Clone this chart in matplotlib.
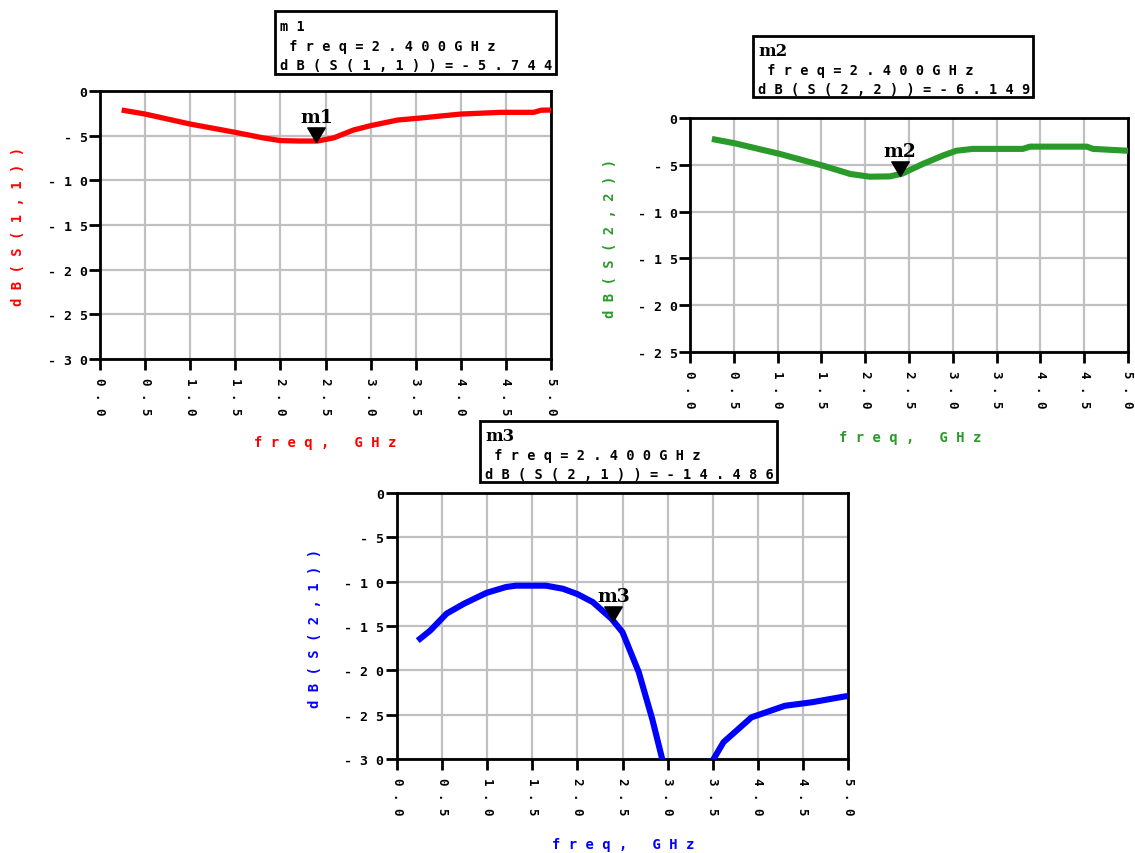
import matplotlib
matplotlib.use("Agg")
import matplotlib.pyplot as plt
from matplotlib.path import Path
from matplotlib.patches import Rectangle

W, H = 1135, 854

# ---------------- data ----------------
x_ticks = [0.0, 0.5, 1.0, 1.5, 2.0, 2.5, 3.0, 3.5, 4.0, 4.5, 5.0]
y_ticks_30 = [0, -5, -10, -15, -20, -25, -30]
y_ticks_25 = [0, -5, -10, -15, -20, -25]

s11_freq = [0.24, 0.5, 1.0, 1.5, 1.81, 2.0, 2.2, 2.41, 2.59, 2.81, 3.0, 3.3, 3.56, 4.0, 4.44, 4.81, 4.89, 5.0]
s11_db = [-2.13, -2.58, -3.7, -4.63, -5.25, -5.55, -5.6, -5.6, -5.25, -4.37, -3.88, -3.25, -3.02, -2.58, -2.39, -2.39, -2.15, -2.13]

s22_freq = [0.25, 0.51, 1.03, 1.52, 1.83, 2.05, 2.28, 2.42, 2.66, 2.89, 3.04, 3.23, 3.8, 3.88, 4.53, 4.6, 5.0]
s22_db = [-2.24, -2.7, -3.85, -5.1, -5.98, -6.27, -6.24, -5.95, -4.9, -4.0, -3.5, -3.3, -3.3, -3.06, -3.06, -3.3, -3.5]

s21_freq = [0.23, 0.37, 0.55, 0.74, 0.99, 1.21, 1.32, 1.65, 1.84, 2.0, 2.17, 2.38, 2.5, 2.68, 2.83, 2.94, 3.05, 3.25, 3.45, 3.51, 3.62, 3.93, 4.3, 4.6, 4.96, 5.0]
s21_db = [-16.65, -15.5, -13.6, -12.5, -11.27, -10.6, -10.45, -10.45, -10.8, -11.4, -12.3, -14.2, -15.7, -20.2, -25.5, -30.0, -34.0, -45.0, -33.0, -30.0, -28.1, -25.3, -24.0, -23.6, -22.95, -22.9]

marker_freq = 2.4
m1_db, m2_db, m3_db = -5.744, -6.149, -14.486

box1_lines = ["m1", "freq=2.400GHz", "dB(S(1,1))=-5.744"]
box2_lines = ["m2", "freq=2.400GHz", "dB(S(2,2))=-6.149"]
box3_lines = ["m3", "freq=2.400GHz", "dB(S(2,1))=-14.486"]

RED, GREEN, BLUE = "#ff0000", "#2a9a2a", "#0000ff"
MONO = "DejaVu Sans Mono"


def sp(s):
    return " ".join(s)


fig = plt.figure(figsize=(W / 100, H / 100), dpi=100)
fig.patch.set_facecolor("white")


def add_ax(l, r, t, b):
    return fig.add_axes([l / W, 1 - b / H, (r - l) / W, (b - t) / H])


tri = Path([(-0.6, 1.0), (0.6, 1.0), (0.0, 0.0), (-0.6, 1.0)],
           [Path.MOVETO, Path.LINETO, Path.LINETO, Path.CLOSEPOLY])


def setup(ax, yt, color, fx, fy, ylabel_text, lx, ly):
    ax.set_xlim(0, 5)
    ax.set_ylim(min(yt), 0)
    ax.set_xticks(x_ticks)
    ax.set_xticklabels([sp(f"{v:.1f}") for v in x_ticks], rotation=-90,
                       fontfamily=MONO, fontweight="bold", fontsize=9)
    ax.set_yticks(yt)
    ax.set_yticklabels([sp(f"{v:d}") for v in yt],
                       fontfamily=MONO, fontweight="bold", fontsize=9.5)
    ax.grid(True, color="#c0c0c0", linewidth=1.6, zorder=0)
    ax.set_axisbelow(True)
    for s in ax.spines.values():
        s.set_linewidth(2)
        s.set_color("black")
    ax.tick_params(axis="both", direction="out", length=8, width=2, color="black")
    ax.tick_params(axis="y", pad=1)
    ax.tick_params(axis="x", pad=5)
    fig.text(fx / W, 1 - fy / H, sp("freq, GHz"), color=color,
             fontfamily=MONO, fontweight="bold", fontsize=10, ha="center", va="center")
    fig.text(lx / W, 1 - ly / H, sp(ylabel_text), color=color, rotation=90,
             fontfamily=MONO, fontweight="bold", fontsize=10, ha="center", va="center")


def marker(ax, f, d, name):
    ax.plot([f], [d], marker=tri, markersize=21, color="black", zorder=5, clip_on=False)
    ax.annotate(name, xy=(f, d), xytext=(0, 11.5), textcoords="offset points",
                ha="center", va="bottom", fontfamily="DejaVu Serif", fontsize=13.5,
                fontweight="bold", zorder=6)


def box(l, r, t, b, lines, serif_first):
    fig.patches.append(Rectangle((l / W, 1 - b / H), (r - l) / W, (b - t) / H,
                                 transform=fig.transFigure, fill=False,
                                 edgecolor="black", linewidth=2))
    ys = [t + 15, t + 34.5, t + 53.5]
    if serif_first:
        fig.text((l + 5) / W, 1 - ys[0] / H, lines[0], fontfamily="DejaVu Serif",
                 fontweight="bold", fontsize=12, ha="left", va="center")
    else:
        fig.text((l + 5) / W, 1 - ys[0] / H, sp(lines[0]), fontfamily=MONO,
                 fontweight="bold", fontsize=9.8, ha="left", va="center")
    fig.text((l + 6) / W, 1 - ys[1] / H, " " + sp(lines[1]), fontfamily=MONO,
             fontweight="bold", fontsize=9.8, ha="left", va="center")
    fig.text((l + 5) / W, 1 - ys[2] / H, sp(lines[2]), fontfamily=MONO,
             fontweight="bold", fontsize=9.8, ha="left", va="center")


# ---- plot 1 ----
ax1 = add_ax(100, 551, 92, 360)
ax1.plot(s11_freq, s11_db, color=RED, linewidth=3.8, zorder=3, solid_capstyle="butt")
setup(ax1, y_ticks_30, RED, 325, 443, "dB(S(1,1))", 18, 226)
marker(ax1, marker_freq, m1_db, "m1")

# ---- plot 2 ----
ax2 = add_ax(690, 1128, 119, 353)
ax2.plot(s22_freq, s22_db, color=GREEN, linewidth=4.4, zorder=3, solid_capstyle="butt")
setup(ax2, y_ticks_25, GREEN, 910, 438, "dB(S(2,2))", 610, 238)
marker(ax2, marker_freq, m2_db, "m2")

# ---- plot 3 ----
ax3 = add_ax(397, 848, 494, 760)
ax3.plot(s21_freq, s21_db, color=BLUE, linewidth=4.4, zorder=3, solid_capstyle="butt")
setup(ax3, y_ticks_30, BLUE, 623, 845, "dB(S(2,1))", 315, 628)
marker(ax3, marker_freq, m3_db, "m3")

box(275, 556, 12, 75, box1_lines, False)
box(753, 1033, 37, 98, box2_lines, True)
box(480, 777, 422, 483, box3_lines, True)

fig.savefig("out.png", dpi=100, facecolor="white")
